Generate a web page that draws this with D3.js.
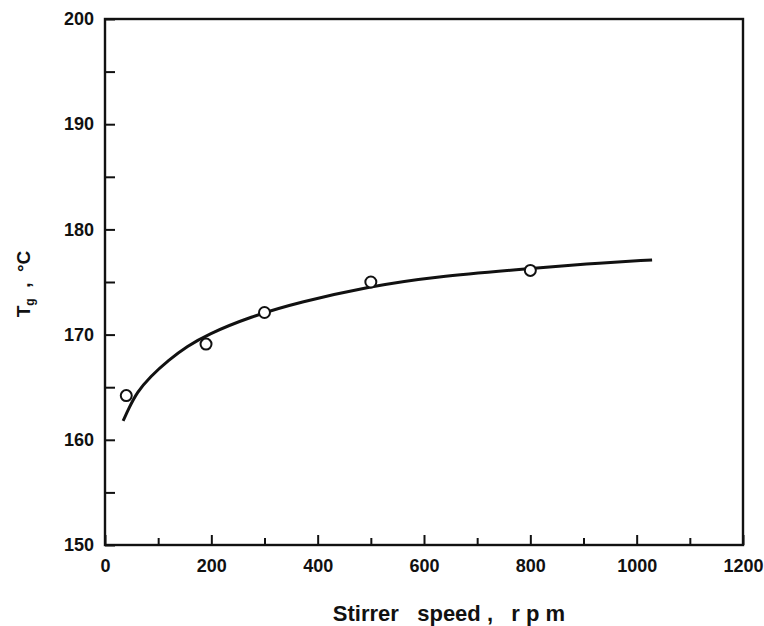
<!DOCTYPE html>
<html>
<head>
<meta charset="utf-8">
<script src="https://cdn.jsdelivr.net/npm/d3@7"></script>
<style>
  html, body { margin: 0; padding: 0; background: #fff; }
  svg text { font-family: "Liberation Sans", Arial, Helvetica, sans-serif; font-weight: bold; fill: #111; }
</style>
</head>
<body>
<svg id="chart" width="764" height="626"></svg>
<script>
// Data
const pointSpeed = [40, 190, 300, 500, 800];
const pointTg = [164.2, 169.1, 172.1, 175.0, 176.1];

const curveSpeed = [34, 45, 60, 85, 120, 155, 192, 273, 367, 500, 617, 805, 900, 1029];
const curveTg = [161.8, 163.0, 164.5, 166.0, 167.6, 168.9, 170.0, 171.7, 173.1, 174.6, 175.5, 176.3, 176.7, 177.1];

const xTickValues = [0, 200, 400, 600, 800, 1000, 1200];
const xMinorTicks = [100, 300, 500, 700, 900, 1100];
const yTickValues = [150, 160, 170, 180, 190, 200];
const yMinorTicks = [155, 165, 175, 185, 195];

const svg = d3.select("#chart");
const mLeft = 105, mRight = 743, mTop = 19, mBottom = 545;

const x = d3.scaleLinear().domain([0, 1200]).range([mLeft, mRight]);
const y = d3.scaleLinear().domain([150, 200]).range([mBottom, mTop]);

const ink = "#111";

// Frame
svg.append("rect")
  .attr("x", mLeft).attr("y", mTop)
  .attr("width", mRight - mLeft).attr("height", mBottom - mTop)
  .attr("fill", "none").attr("stroke", ink).attr("stroke-width", 2.4);

// X axis (ticks inward)
const xAxis = d3.axisBottom(x).tickValues(xTickValues).tickSize(-10).tickPadding(8).tickFormat(d3.format("d"));
const gx = svg.append("g").attr("transform", `translate(0,${mBottom})`).call(xAxis);
gx.select(".domain").remove();
gx.selectAll(".tick line").attr("stroke", ink).attr("stroke-width", 2);
gx.selectAll(".tick text").attr("font-size", 18).attr("dy", "1.05em");
const xMinor = d3.axisBottom(x).tickValues(xMinorTicks).tickSize(-7).tickFormat("");
const gxm = svg.append("g").attr("transform", `translate(0,${mBottom})`).call(xMinor);
gxm.select(".domain").remove();
gxm.selectAll(".tick line").attr("stroke", ink).attr("stroke-width", 2);

// Y axis (ticks inward)
const yAxis = d3.axisLeft(y).tickValues(yTickValues).tickSize(-10).tickPadding(11).tickFormat(d3.format("d"));
const gy = svg.append("g").attr("transform", `translate(${mLeft},0)`).call(yAxis);
gy.select(".domain").remove();
gy.selectAll(".tick line").attr("stroke", ink).attr("stroke-width", 2);
gy.selectAll(".tick text").attr("font-size", 18);
const yMinor = d3.axisLeft(y).tickValues(yMinorTicks).tickSize(-10).tickFormat("");
const gym = svg.append("g").attr("transform", `translate(${mLeft},0)`).call(yMinor);
gym.select(".domain").remove();
gym.selectAll(".tick line").attr("stroke", ink).attr("stroke-width", 2);

// Fitted curve
const curveData = curveSpeed.map((s, i) => [s, curveTg[i]]);
svg.append("path")
  .datum(curveData)
  .attr("fill", "none").attr("stroke", ink).attr("stroke-width", 3)
  .attr("d", d3.line().x(d => x(d[0])).y(d => y(d[1])).curve(d3.curveBasis));

// Points
const pts = pointSpeed.map((s, i) => [s, pointTg[i]]);
svg.append("g").selectAll("circle").data(pts).join("circle")
  .attr("cx", d => x(d[0])).attr("cy", d => y(d[1])).attr("r", 5.5)
  .attr("fill", "#fff").attr("stroke", ink).attr("stroke-width", 2);

// Axis titles
svg.append("text")
  .attr("x", 449).attr("y", 621)
  .attr("text-anchor", "middle").attr("font-size", 22)
  .style("white-space", "pre").attr("xml:space", "preserve")
  .text("Stirrer   speed ,   r p m");

const yt = svg.append("text")
  .attr("transform", "translate(30,284) rotate(-90)")
  .attr("text-anchor", "middle").attr("font-size", 19)
  .style("white-space", "pre").attr("xml:space", "preserve");
yt.append("tspan").text("T");
yt.append("tspan").attr("font-size", 12).attr("dy", 4).text("g");
yt.append("tspan").attr("dy", -4).text("  ,  °C");
</script>
</body>
</html>
